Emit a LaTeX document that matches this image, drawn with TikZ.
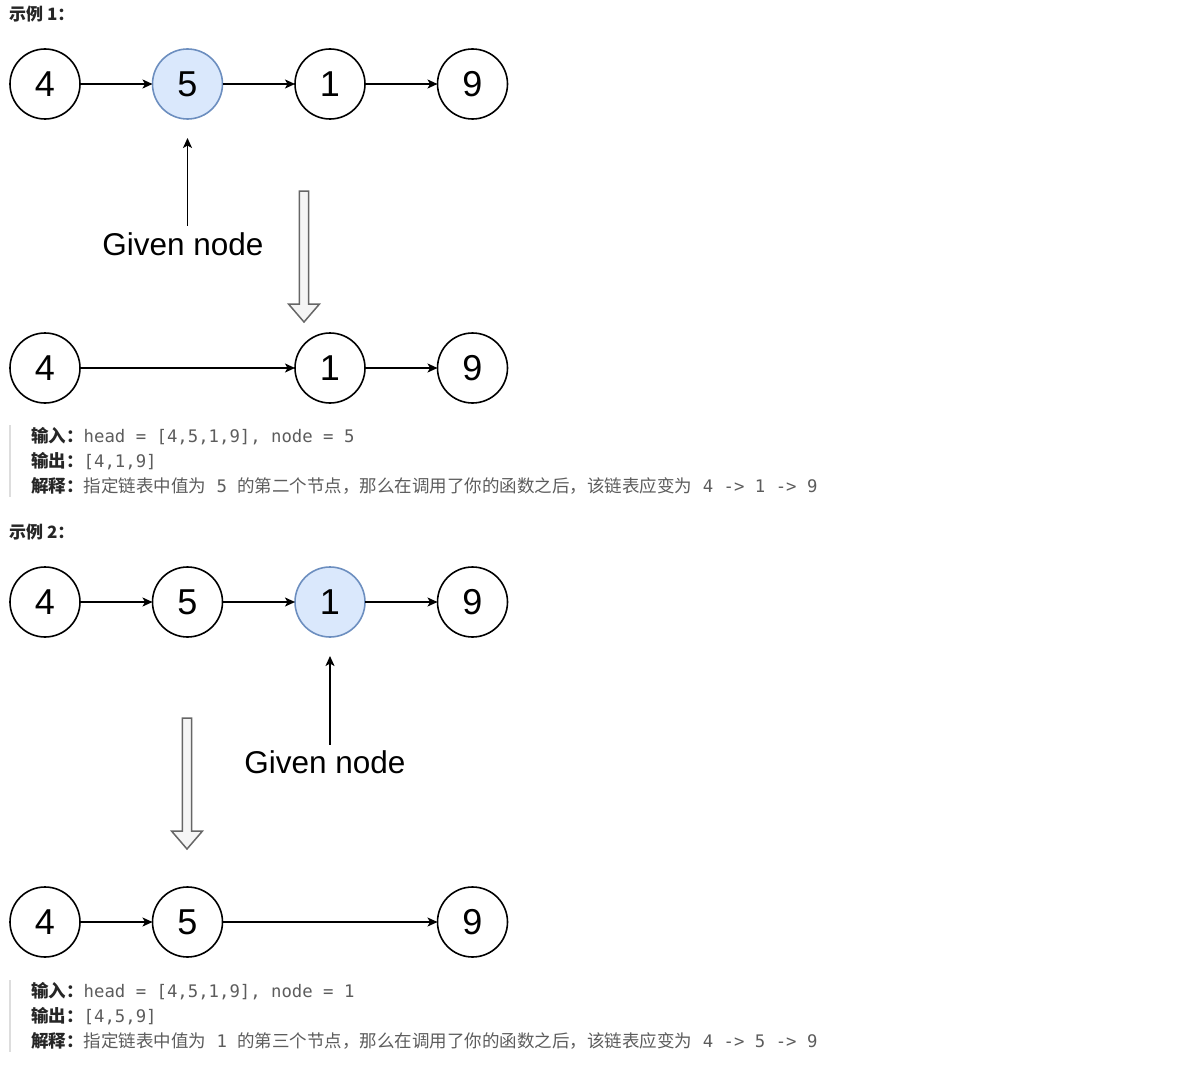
\documentclass[tikz,border=0pt]{standalone}
\usepackage{fontspec}
\setmainfont{Liberation Sans}
\newfontfamily\cjk{Noto Sans CJK SC}
\newfontfamily\codefont{DejaVu Sans Mono}
\usetikzlibrary{positioning,arrows.meta}
\definecolor{hlfill}{HTML}{DAE8FC}
\definecolor{hldraw}{HTML}{6C8EBF}
\definecolor{bodygray}{HTML}{5C5C5C}
\definecolor{lbldark}{HTML}{262626}
\definecolor{bargray}{HTML}{DDDDDD}
\definecolor{bigfill}{HTML}{F5F5F5}
\definecolor{bigdraw}{HTML}{666666}
\newcommand{\lbl}[1]{{\cjk\bfseries\color{lbldark}#1}}
\newcommand{\code}[1]{{\codefont\fontsize{17.3}{20}\selectfont #1}}
\tikzset{
  listnode/.style={circle, draw, line width=1.6pt, minimum size=70pt, inner sep=0pt, outer sep=0pt, font=\fontsize{36}{40}\selectfont},
  given/.style={listnode, fill=hlfill, draw=hldraw},
  link/.style={-{Stealth[length=10pt,width=9pt,inset=2.5pt]}, line width=1.5pt},
  hintlbl/.style={inner sep=0pt, font=\fontsize{31.5}{36}\selectfont},
  textline/.style={anchor=west, inner sep=0pt, text=bodygray, font=\cjk\fontsize{17.5}{22}\selectfont},
  heading/.style={anchor=west, inner sep=0pt, text=lbldark, font=\cjk\bfseries\fontsize{17}{20}\selectfont},
  hollowdown/.pic={\draw[bigdraw, fill=bigfill, line width=1.5pt] (-4.7,0) -- (4.7,0) -- (4.7,113) -- (15.5,113) -- (0,131) -- (-15.5,113) -- (-4.7,113) -- cycle;}
}
\begin{document}
\begin{tikzpicture}[x=1pt, y=-1pt, node distance=72.5pt]
  \useasboundingbox (0,0) rectangle (1186,1070);

  % example 1
  \node[heading] (h1) at (9,14) {示例 1：};

  % the list before
  \node[listnode] (a4) at (45,84) {4};
  \node[given, right=of a4] (a5) {5};
  \node[listnode, right=of a5] (a1) {1};
  \node[listnode, right=of a1] (a9) {9};
  \draw[link] (a4) -- (a5);
  \draw[link] (a5) -- (a1);
  \draw[link] (a1) -- (a9);

  % pointer to the given node
  \node[hintlbl] (g1) at (183,244) {Given node};
  \draw[link, shorten >=19pt, shorten <=6.5pt] (g1.north -| a5) -- (a5);
  \pic at (304,191) {hollowdown};

  % the list after
  \node[listnode] (b4) at (45,368) {4};
  \node[listnode, right=215pt of b4] (b1) {1};
  \node[listnode, right=of b1] (b9) {9};
  \draw[link] (b4) -- (b1);
  \draw[link] (b1) -- (b9);

  % input, output, explanation
  \draw[bargray, line width=2pt] (10,425) -- (10,497);
  \node[textline] (in1) at (31,436) {\lbl{输入：}\code{head = [4,5,1,9], node = 5}};
  \node[textline] (out1) at (31,461) {\lbl{输出：}\code{[4,1,9]}};
  \node[textline] (ex1) at (31,486) {\lbl{解释：}指定链表中值为\code{ 5 }的第二个节点，那么在调用了你的函数之后，该链表应变为\code{ 4 -> 1 -> 9}};

  % example 2
  \node[heading] (h2) at (9,532) {示例 2：};

  \node[listnode] (c4) at (45,602) {4};
  \node[listnode, right=of c4] (c5) {5};
  \node[given, right=of c5] (c1) {1};
  \node[listnode, right=of c1] (c9) {9};
  \draw[link] (c4) -- (c5);
  \draw[link] (c5) -- (c1);
  \draw[link] (c1) -- (c9);

  \node[hintlbl] (g2) at (325,762) {Given node};
  \draw[link, shorten >=19pt, shorten <=5.5pt] (g2.north -| c1) -- (c1);
  \pic at (187,718) {hollowdown};

  \node[listnode] (d4) at (45,922) {4};
  \node[listnode, right=of d4] (d5) {5};
  \node[listnode, right=215pt of d5] (d9) {9};
  \draw[link] (d4) -- (d5);
  \draw[link] (d5) -- (d9);

  \draw[bargray, line width=2pt] (10,980) -- (10,1052);
  \node[textline] (in2) at (31,991) {\lbl{输入：}\code{head = [4,5,1,9], node = 1}};
  \node[textline] (out2) at (31,1016) {\lbl{输出：}\code{[4,5,9]}};
  \node[textline] (ex2) at (31,1041) {\lbl{解释：}指定链表中值为\code{ 1 }的第三个节点，那么在调用了你的函数之后，该链表应变为\code{ 4 -> 5 -> 9}};
\end{tikzpicture}
\end{document}
